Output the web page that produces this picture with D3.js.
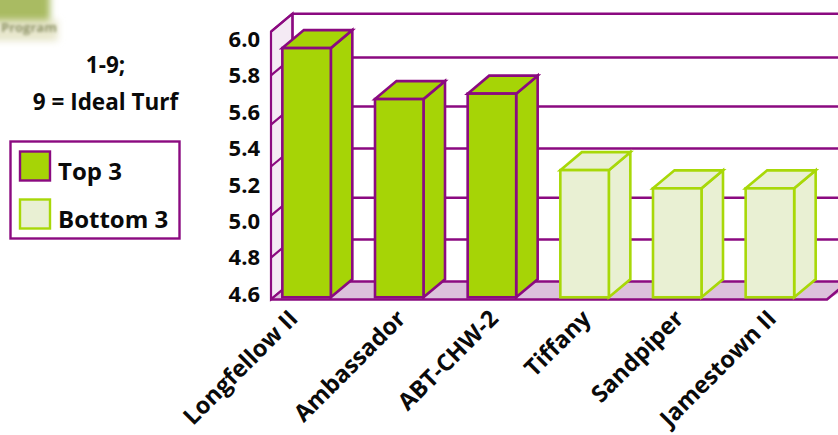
<!DOCTYPE html>
<html>
<head>
<meta charset="utf-8">
<script src="https://cdn.jsdelivr.net/npm/d3@7"></script>
<style>
  html, body { margin: 0; padding: 0; background: #fff; }
  svg { display: block; }
  text { font-family: "Open Sans", "Noto Sans", sans-serif; font-weight: 700; fill: #0a0a0a; }
</style>
</head>
<body>
<svg id="chart" width="838" height="435"></svg>
<script>
// Turf quality ratings, top and bottom three cultivars
const cultivars = ["Longfellow II", "Ambassador", "ABT-CHW-2", "Tiffany", "Sandpiper", "Jamestown II"];
const ratings = [5.95, 5.67, 5.70, 5.28, 5.18, 5.18];
const groups = ["Top 3", "Top 3", "Top 3", "Bottom 3", "Bottom 3", "Bottom 3"];
const tickValues = [6.0, 5.8, 5.6, 5.4, 5.2, 5.0, 4.8, 4.6];
const gridLevels = [6.04, 5.80, 5.53, 5.30, 5.03, 4.80];
const floorLevel = 4.57;
const barBaseLevel = 4.582;
const noteLines = ["1-9;", "9 = Ideal Turf"];
const legendGroups = ["Top 3", "Bottom 3"];

const PURPLE = "#8b0a80";
const WALL = "#f4eaf4";
const FLOOR = "#dcc1dc";
const palette = {
  "Top 3": { fill: "#a6d406", stroke: PURPLE },
  "Bottom 3": { fill: "#e9f0d3", stroke: "#a8d808" }
};

const svg = d3.select("#chart");
const depthX = 21.5, depthY = 18, barWidth = 48.5;

const y = d3.scaleLinear().domain([4.6, 6.0]).range([294, 39]);
const x = d3.scaleBand().domain(cultivars).range([271, 827]);
const wallX = x.range()[0];
const floorY = y(floorLevel);
const baseY = y(barBaseLevel);

// Soft logo fragment in the corner
const defs = svg.append("defs");
defs.append("filter").attr("id", "soft").attr("x", "-30%").attr("y", "-30%")
  .attr("width", "160%").attr("height", "160%")
  .append("feGaussianBlur").attr("stdDeviation", 3.5);
defs.append("filter").attr("id", "softer").attr("x", "-20%").attr("y", "-50%")
  .attr("width", "140%").attr("height", "200%")
  .append("feGaussianBlur").attr("stdDeviation", 1.8);
svg.append("rect").attr("x", -10).attr("y", -10).attr("width", 60).attr("height", 44)
  .attr("fill", "#a9bb62").attr("filter", "url(#soft)");
svg.append("rect").attr("x", -10).attr("y", 20).attr("width", 68).attr("height", 21)
  .attr("fill", "#e9e8cf").attr("filter", "url(#soft)");
svg.append("text").attr("x", 1).attr("y", 32).attr("font-size", 13).attr("filter", "url(#softer)")
  .style("fill", "#8f9468").text("Program");

// Back wall gridlines, left wall and floor
const wall = svg.append("g");
wall.append("polygon")
  .attr("points", [[wallX, y(gridLevels[0])], [wallX + depthX, y(gridLevels[0]) - depthY],
                   [wallX + depthX, floorY - depthY], [wallX, floorY]].join(" "))
  .attr("fill", WALL).attr("stroke", PURPLE).attr("stroke-width", 2.2);
wall.append("polygon")
  .attr("points", [[wallX, floorY], [wallX + depthX, floorY - depthY],
                   [860, floorY - depthY], [x.range()[1], floorY]].join(" "))
  .attr("fill", FLOOR);
wall.selectAll("line.grid").data(gridLevels).join("line").attr("class", "grid")
  .attr("x1", wallX + depthX).attr("x2", 838)
  .attr("y1", d => y(d) - depthY).attr("y2", d => y(d) - depthY)
  .attr("stroke", PURPLE).attr("stroke-width", 2.5);
wall.selectAll("line.side").data(gridLevels).join("line").attr("class", "side")
  .attr("x1", wallX).attr("x2", wallX + depthX)
  .attr("y1", d => y(d)).attr("y2", d => y(d) - depthY)
  .attr("stroke", PURPLE).attr("stroke-width", 2.2);
wall.append("line").attr("x1", wallX + depthX).attr("x2", 838)
  .attr("y1", floorY - depthY).attr("y2", floorY - depthY)
  .attr("stroke", PURPLE).attr("stroke-width", 2.5);
wall.append("line").attr("x1", wallX).attr("x2", wallX + depthX)
  .attr("y1", floorY).attr("y2", floorY - depthY)
  .attr("stroke", PURPLE).attr("stroke-width", 2.2);
wall.append("line").attr("x1", wallX + depthX).attr("x2", wallX + depthX)
  .attr("y1", y(gridLevels[0]) - depthY).attr("y2", floorY - depthY)
  .attr("stroke", PURPLE).attr("stroke-width", 2.2);
wall.append("path")
  .attr("d", `M${wallX},${floorY}H${x.range()[1]}L${x.range()[1] + depthX},${floorY - depthY}`)
  .attr("fill", "none").attr("stroke", PURPLE).attr("stroke-width", 2.6);

// Extruded bars: side, top and front faces
const data = cultivars.map((name, i) => ({ name, value: ratings[i], group: groups[i] }));
const bars = svg.append("g").selectAll("g").data(data).join("g")
  .attr("fill", d => palette[d.group].fill)
  .attr("stroke", d => palette[d.group].stroke)
  .attr("stroke-width", 2.6)
  .attr("stroke-linejoin", "miter");
const left = d => x(d.name) + (x.bandwidth() - barWidth - depthX) / 2;
bars.append("polygon").attr("points", d => {
  const r = left(d) + barWidth, t = y(d.value);
  return [[r, t], [r + depthX, t - depthY], [r + depthX, baseY - depthY], [r, baseY]].join(" ");
});
bars.append("polygon").attr("points", d => {
  const l = left(d), t = y(d.value);
  return [[l, t], [l + depthX, t - depthY], [l + barWidth + depthX, t - depthY], [l + barWidth, t]].join(" ");
});
bars.append("rect")
  .attr("x", left).attr("width", barWidth)
  .attr("y", d => y(d.value))
  .attr("height", d => baseY - y(d.value));

// Value axis labels
svg.append("g").selectAll("text").data(tickValues).join("text")
  .attr("x", 260).attr("y", d => y(d)).attr("dy", "0.36em")
  .attr("text-anchor", "end").attr("font-size", 22)
  .text(d => d.toFixed(1));

// Cultivar labels, slanted below the floor; the first sits closer to the axis
svg.append("g").selectAll("text").data(cultivars).join("text")
  .attr("text-anchor", "end").attr("font-size", 23.5)
  .attr("transform", (d, i) => `translate(${x(d) + x.bandwidth() / 2 - (i === 0 ? 24 : 9)},314) rotate(-45)`)
  .attr("dy", "0.36em")
  .text(d => d);

// Rating scale note
svg.append("g").selectAll("text").data(noteLines).join("text")
  .attr("x", 105.5).attr("y", (d, i) => 73 + i * 37)
  .attr("text-anchor", "middle").attr("font-size", 22.5)
  .text(d => d);

// Legend
svg.append("rect").attr("x", 10.5).attr("y", 141.5).attr("width", 169).attr("height", 97)
  .attr("fill", "#fff").attr("stroke", PURPLE).attr("stroke-width", 2.4);
const legend = svg.append("g").selectAll("g").data(legendGroups).join("g")
  .attr("transform", (d, i) => `translate(20,${151.5 + i * 48})`);
legend.append("rect").attr("width", 30).attr("height", 29)
  .attr("fill", d => palette[d].fill)
  .attr("stroke", d => palette[d].stroke).attr("stroke-width", 2.4);
legend.append("text").attr("x", 38).attr("y", 28.5).attr("font-size", 24).text(d => d);
</script>
</body>
</html>
